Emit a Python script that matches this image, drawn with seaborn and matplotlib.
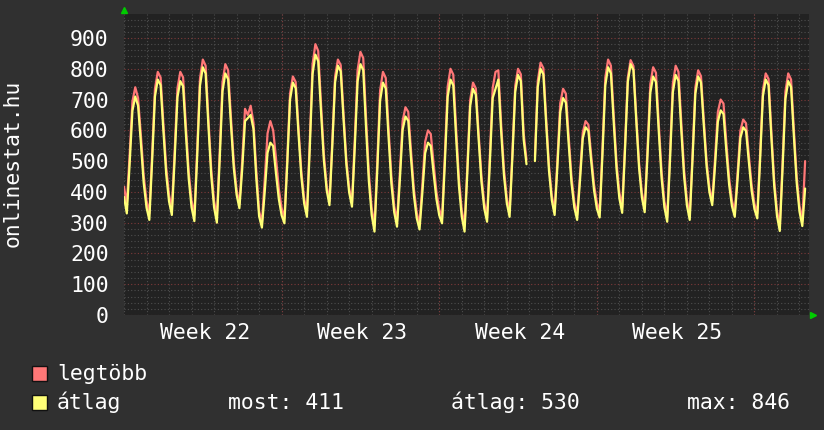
import numpy as np
import pandas as pd
import matplotlib
matplotlib.use("Agg")
import matplotlib.pyplot as plt
from matplotlib.patches import Rectangle
import seaborn as sns

nan = np.nan
# 3-hourly samples (00,03,...,21h) per day, starting Monday of week 22
legtobb = [
    417, 360, 520, 694, 740, 705, 584, 453,
    371, 330, 523, 735, 790, 772, 621, 479,
    390, 345, 532, 737, 790, 772, 613, 465,
    372, 325, 537, 769, 830, 810, 636, 473,
    371, 320, 528, 756, 815, 795, 642, 497,
    406, 360, 500, 670, 650, 680, 625, 470,
    338, 300, 439, 590, 630, 600, 510, 410,
    347, 315, 508, 720, 775, 757, 608, 467,
    379, 335, 564, 815, 880, 858, 686, 523,
    421, 370, 563, 775, 830, 812, 653, 505,
    412, 365, 571, 796, 855, 835, 640, 460,
    347, 290, 500, 730, 790, 770, 606, 451,
    354, 305, 460, 631, 675, 660, 531, 409,
    333, 295, 423, 563, 600, 588, 492, 401,
    344, 315, 519, 742, 800, 781, 606, 443,
    341, 290, 485, 699, 755, 736, 590, 451,
    364, 320, 520, 738, 790, 795, 620, 473,
    381, 335, 530, 744, 800, 782, 590, 505,
    nan, nan, 515, 760, 820, 802, 638, 484,
    388, 340, 506, 688, 735, 719, 579, 448,
    366, 325, 453, 593, 630, 618, 518, 424,
    365, 335, 543, 771, 830, 810, 648, 494,
    398, 350, 551, 771, 828, 809, 646, 493,
    398, 350, 541, 750, 805, 787, 621, 466,
    369, 320, 526, 751, 810, 790, 626, 471,
    374, 325, 522, 739, 795, 776, 634, 498,
    413, 370, 509, 660, 700, 687, 561, 445,
    372, 335, 461, 599, 635, 623, 519, 422,
    361, 330, 521, 730, 785, 767, 597, 439,
    340, 290, 498, 726, 785, 765, 603, 449,
    354, 305, 500,
]
atlag = [
    384, 330, 490, 664, 710, 680, 558, 429,
    349, 309, 501, 710, 765, 747, 598, 457,
    369, 325, 508, 708, 760, 743, 587, 442,
    350, 305, 515, 745, 805, 785, 613, 452,
    350, 300, 504, 727, 785, 766, 619, 478,
    391, 347, 474, 630, 640, 650, 605, 445,
    321, 284, 400, 527, 560, 549, 460, 377,
    324, 298, 490, 700, 755, 737, 589, 450,
    363, 319, 540, 783, 846, 825, 660, 504,
    406, 357, 547, 756, 810, 792, 636, 489,
    398, 352, 546, 759, 815, 796, 608, 434,
    325, 271, 474, 697, 755, 736, 577, 427,
    334, 287, 437, 602, 645, 631, 506, 388,
    315, 278, 396, 526, 560, 549, 460, 377,
    324, 298, 494, 709, 765, 746, 577, 419,
    320, 271, 466, 679, 735, 716, 571, 433,
    346, 303, 497, 705, 735, 765, 596, 453,
    364, 319, 513, 725, 780, 760, 570, 490,
    nan, nan, 500, 740, 800, 782, 620, 468,
    373, 325, 485, 659, 705, 690, 555, 428,
    349, 309, 435, 574, 610, 598, 499, 405,
    346, 317, 522, 746, 805, 785, 625, 474,
    379, 332, 535, 757, 815, 796, 632, 478,
    382, 334, 519, 722, 775, 757, 596, 445,
    350, 303, 503, 723, 780, 761, 601, 450,
    356, 309, 505, 719, 775, 756, 616, 482,
    399, 357, 486, 628, 665, 653, 534, 423,
    354, 319, 441, 575, 610, 598, 498, 403,
    344, 314, 503, 711, 765, 747, 578, 421,
    322, 273, 478, 702, 760, 741, 581, 430,
    336, 289, 411,
]
week_labels = ["Week 22", "Week 23", "Week 24", "Week 25"]
series_names = ["legtöbb", "átlag"]
stat_texts = ["most: 411", "átlag: 530", "max: 846"]
ylabel = "onlinestat.hu"

RED = "#ff7777"
YEL = "#ffff77"
OUTER = "#303030"
INNER = "#222222"

frames = []
for name, vals in zip(series_names, [legtobb, atlag]):
    v = np.array(vals, dtype=float)
    t = np.arange(len(v)) * 3 / 24.0
    seg = np.cumsum(np.isnan(v))
    frames.append(pd.DataFrame({"t": t, "value": v, "series": name, "seg": seg}))
df = pd.concat(frames, ignore_index=True)

sns.set_theme(style="dark")
plt.rcParams["font.family"] = ["DejaVu Sans Mono"]

W, H = 824, 430
fig = plt.figure(figsize=(W / 100, H / 100), dpi=100, facecolor=OUTER)
ax = fig.add_axes([124 / W, (H - 315) / H, (809 - 124) / W, (315 - 14) / H])
ax.set_facecolor(INNER)

xmax = (809 - 124.5) / 22.5
ax.set_xlim(0, xmax)
ax.set_ylim(0, 978)

# grid
ax.set_yticks(np.arange(0, 901, 100))
ax.set_yticks(np.arange(0, 978, 20), minor=True)
ax.set_xticks(np.arange(0, 31, 1), minor=True)
ax.set_xticks([3.58, 10.58, 17.58, 24.58])
ax.set_xticklabels(week_labels)
ax.grid(False)
ax.grid(which="minor", axis="both", color="#4e4e4e", linestyle=(0, (1, 2)), linewidth=0.8)
ax.grid(which="major", axis="y", color="#7e3a3a", linestyle=(0, (1, 2)), linewidth=0.8)
for d in [7, 14, 21, 28]:
    ax.axvline(d, color="#7e3a3a", linestyle=(0, (1, 2)), linewidth=0.8, zorder=1)

sns.lineplot(data=df, x="t", y="value", hue="series", hue_order=series_names,
             units="seg", estimator=None, palette={series_names[0]: RED, series_names[1]: YEL},
             linewidth=1.6, legend=False, ax=ax)

for s in ax.spines.values():
    s.set_visible(False)
ax.tick_params(which="both", length=0, colors="white")
ax.tick_params(axis="y", labelsize=15.4, pad=11)
ax.tick_params(axis="x", labelsize=15.4, pad=5.5)
ax.set_xlabel("")
ax.set_ylabel("")

# arrows
ax.plot([0.0], [1.0 + 4 / 301], marker="^", color="#00cc00", markersize=4.5,
        transform=ax.transAxes, clip_on=False)
ax.plot([1.0 + 4 / 685], [0.0], marker=">", color="#00cc00", markersize=4.5,
        transform=ax.transAxes, clip_on=False)

fig.text(12.5 / W, 1 - 163.5 / H, ylabel, rotation=90, ha="center", va="center",
         color="white", fontsize=15.4)

# legend
for i, (name, col) in enumerate(zip(series_names, [RED, YEL])):
    base = 380 + 29 * i
    fig.patches.append(Rectangle((32 / W, 1 - (base + 1) / H), 15 / W, 15 / H,
                                 transform=fig.transFigure, facecolor=col,
                                 edgecolor="#111111", linewidth=1))
    fig.text(57 / W, 1 - base / H, name, ha="left", va="baseline",
             color="white", fontsize=15.4)
for txt, xp in zip(stat_texts, [228, 451, 687]):
    fig.text(xp / W, 1 - 409 / H, txt, ha="left", va="baseline",
             color="white", fontsize=15.4)

fig.savefig("out.png", dpi=100, facecolor=OUTER)
